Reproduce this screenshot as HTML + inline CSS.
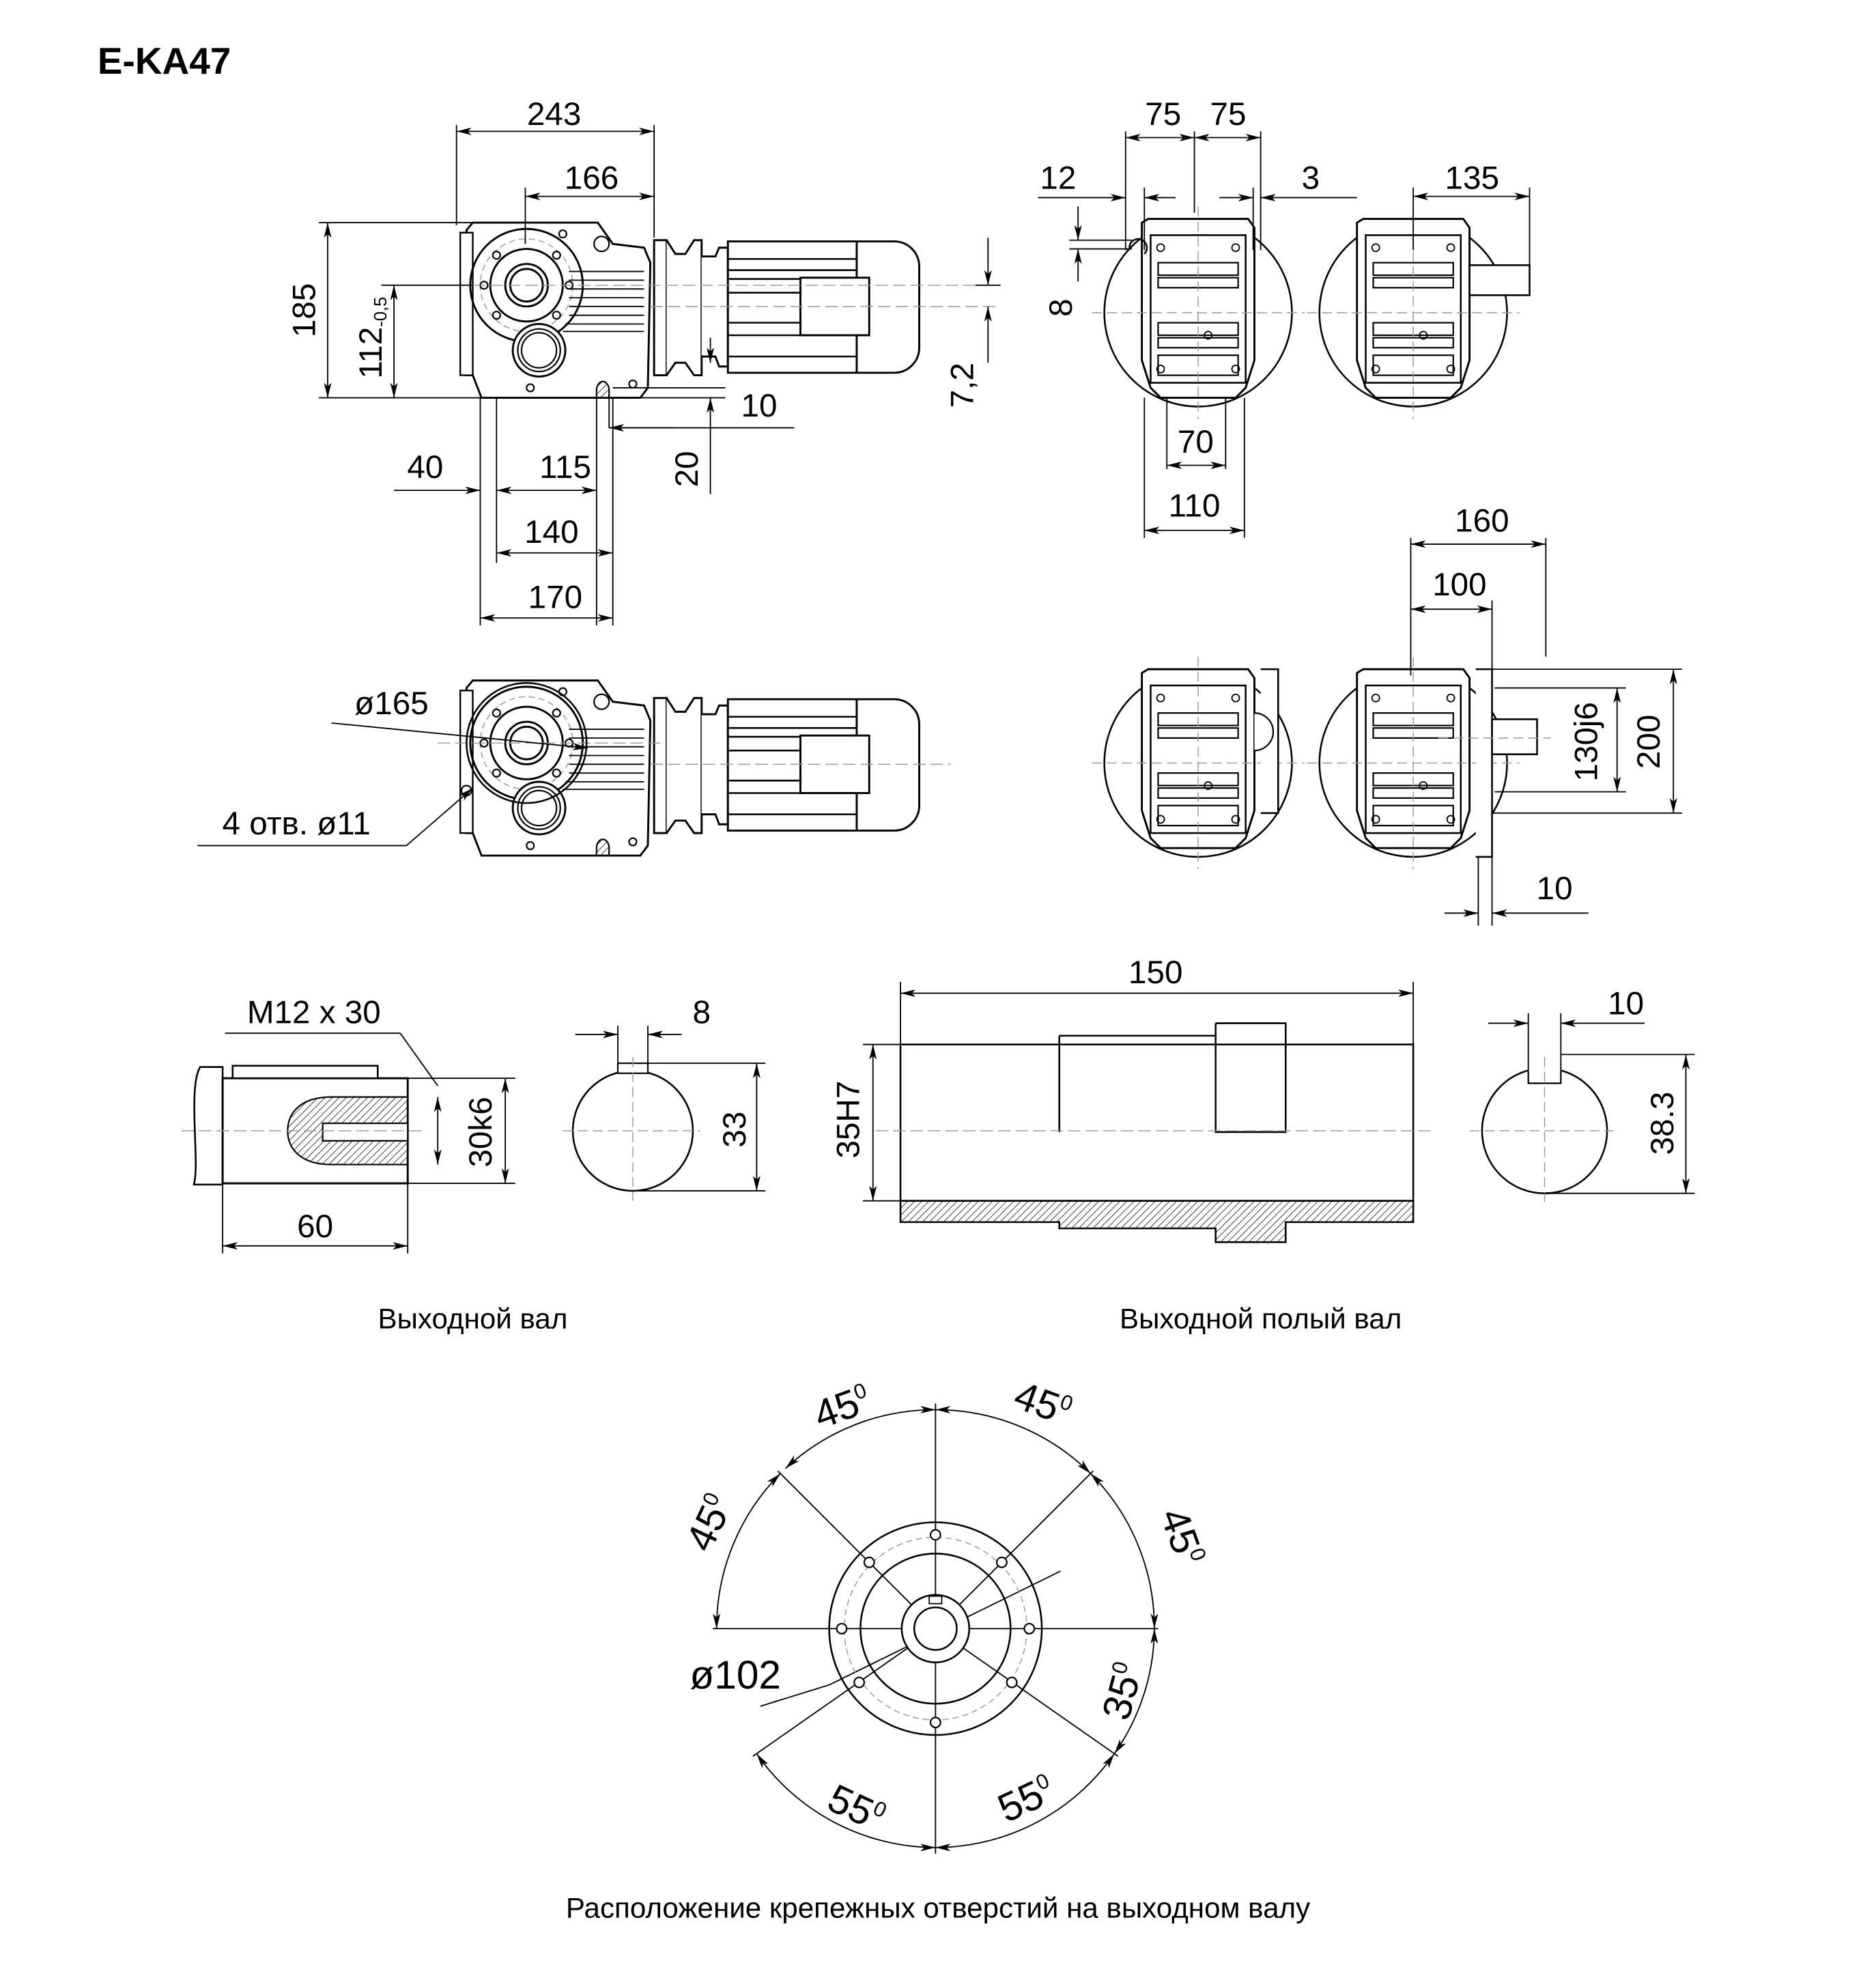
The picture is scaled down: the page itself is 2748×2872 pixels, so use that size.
<!DOCTYPE html>
<html><head><meta charset="utf-8"><style>
html,body{margin:0;padding:0;background:#fff}
svg{display:block}
text{font-family:"Liberation Sans",sans-serif;fill:#000}
</style></head><body>
<svg width="2748" height="2872" viewBox="0 0 1500 1567.7" xmlns="http://www.w3.org/2000/svg">
<defs>
<marker id="a" viewBox="0 0 12 6" refX="12" refY="3" markerWidth="12" markerHeight="6" orient="auto-start-reverse" markerUnits="userSpaceOnUse"><path d="M0,0 L12,3 L0,6 L3,3z" fill="#000"/></marker>
<pattern id="h" width="4" height="4" patternUnits="userSpaceOnUse" patternTransform="rotate(45)"><line x1="0" y1="0" x2="0" y2="4" stroke="#000" stroke-width="0.8"/></pattern>
<g id="gm">
 <path d="M373,184 L378,178 L478,178 L490,195 L515,198 L520,210 L518,310 L512,318 L385,318 L378,300 L373,300 Z" fill="#fff" stroke="#000" stroke-width="1.6"/>
 <path d="M368,186 L378,186 L378,300 L368,300 Z" fill="#fff" stroke="#000" stroke-width="1.3"/>
 <circle cx="421" cy="228" r="45" fill="none" stroke="#000" stroke-width="1.6"/>
 <circle cx="421" cy="228" r="37" fill="none" stroke="#999" stroke-width="0.8" stroke-dasharray="5,3"/>
 <circle cx="421" cy="228" r="29" fill="none" stroke="#000" stroke-width="1.6"/>
 <circle cx="421" cy="228" r="17" fill="none" stroke="#000" stroke-width="1.6"/>
 <circle cx="421" cy="228" r="13" fill="none" stroke="#000" stroke-width="1.6"/>
 <circle cx="431" cy="280" r="21" fill="#fff" stroke="#000" stroke-width="1.6"/>
 <circle cx="431" cy="280" r="17" fill="none" stroke="#000" stroke-width="1.2"/>
 <circle cx="431" cy="280" r="14" fill="none" stroke="#000" stroke-width="1.2"/>
 <g fill="none" stroke="#000" stroke-width="1.2">
  <circle cx="387" cy="228" r="3"/><circle cx="455" cy="228" r="3"/>
  <circle cx="397" cy="204" r="3"/><circle cx="445" cy="204" r="3"/>
  <circle cx="397" cy="252" r="3"/><circle cx="445" cy="252" r="3"/>
  <circle cx="450" cy="187" r="3"/><circle cx="424" cy="310" r="3"/><circle cx="506" cy="307" r="3"/>
  <circle cx="481" cy="195" r="6"/>
 </g>
 <g stroke="#000" stroke-width="1">
  <line x1="455" y1="217" x2="515" y2="217"/><line x1="455" y1="224" x2="515" y2="224"/><line x1="455" y1="231" x2="515" y2="231"/><line x1="455" y1="238" x2="515" y2="238"/><line x1="455" y1="245" x2="515" y2="245"/><line x1="455" y1="252" x2="515" y2="252"/><line x1="452" y1="259" x2="515" y2="259"/><line x1="450" y1="265" x2="515" y2="265"/>
 </g>
 <path d="M477,318 L477,312 A5,7 0 0 1 487,312 L487,318 Z" fill="url(#h)" stroke="#000" stroke-width="1.2"/>
 <rect x="523" y="192" width="10" height="108" fill="#fff" stroke="#000" stroke-width="1.6"/>
 <path d="M533,192 L540,203 L548,203 L555,192 L561,192 L561,300 L555,300 L548,290 L540,290 L533,300" fill="#fff" stroke="#000" stroke-width="1.6"/>
 <path d="M561,205 L572,205 L575,198 L582,198 L582,293 L575,293 L572,285 L561,285" fill="#fff" stroke="#000" stroke-width="1.6"/>
 <path d="M582,193 L715,193 A20,20 0 0 1 735,213 L735,278 A20,20 0 0 1 715,298 L582,298 Z" fill="#fff" stroke="#000" stroke-width="1.6"/>
 <line x1="685" y1="193" x2="685" y2="298" stroke="#000" stroke-width="1.6"/>
 <g stroke="#000" stroke-width="1.4"><line x1="582" y1="207" x2="685" y2="207"/><line x1="582" y1="223" x2="640" y2="223"/><line x1="582" y1="234" x2="640" y2="234"/><line x1="582" y1="258" x2="640" y2="258"/><line x1="582" y1="268" x2="685" y2="268"/><line x1="582" y1="285" x2="685" y2="285"/><line x1="582" y1="216" x2="685" y2="216"/></g>
 <rect x="640" y="222" width="55" height="46" fill="#fff" stroke="#000" stroke-width="1.6"/>
</g>
<g id="ev">
 <circle cx="0" cy="0" r="75" fill="none" stroke="#000" stroke-width="1.4"/>
 <path d="M-45,-72 L-40,-75 L40,-75 L45,-68 L45,38 L38,60 L30,68 L-30,68 L-38,60 L-45,38 Z" fill="#fff" stroke="#000" stroke-width="1.6"/>
 <rect x="-38" y="-62" width="76" height="118" fill="#fff" stroke="#000" stroke-width="1.4"/>
 <g fill="#fff" stroke="#000" stroke-width="1.2">
  <rect x="-32" y="-40" width="64" height="10"/><rect x="-32" y="-28" width="64" height="8"/>
  <rect x="-32" y="8" width="64" height="10"/><rect x="-32" y="20" width="64" height="8"/>
  <rect x="-32" y="34" width="64" height="16"/>
 </g>
 <g fill="none" stroke="#000" stroke-width="1"><circle cx="-30" cy="-52" r="3"/><circle cx="30" cy="-52" r="3"/><circle cx="-30" cy="45" r="3"/><circle cx="30" cy="45" r="3"/><circle cx="8" cy="18" r="3"/></g>
 <line x1="-85" y1="0" x2="85" y2="0" stroke="#999" stroke-width="0.8" stroke-dasharray="8,4"/>
 <line x1="0" y1="-85" x2="0" y2="85" stroke="#999" stroke-width="0.8" stroke-dasharray="8,4"/>
</g>
</defs>

<text x="78" y="59" font-size="30" font-weight="bold">E-KA47</text>

<use href="#gm"/>
<line x1="350" y1="228" x2="800" y2="228" stroke="#999" stroke-width="0.8" stroke-dasharray="10,4"/>
<line x1="520" y1="245" x2="800" y2="245" stroke="#999" stroke-width="0.8" stroke-dasharray="10,4"/>
<g stroke="#000" stroke-width="1" fill="none">
 <line x1="365" y1="100" x2="365" y2="180"/><line x1="523" y1="100" x2="523" y2="190"/><line x1="420" y1="150" x2="420" y2="195"/>
 <line x1="365" y1="105" x2="523" y2="105" marker-start="url(#a)" marker-end="url(#a)"/>
 <line x1="420" y1="157" x2="523" y2="157" marker-start="url(#a)" marker-end="url(#a)"/>
 <line x1="255" y1="178" x2="378" y2="178"/><line x1="255" y1="318" x2="390" y2="318"/><line x1="305" y1="228" x2="378" y2="228"/>
 <line x1="262" y1="178" x2="262" y2="318" marker-start="url(#a)" marker-end="url(#a)"/>
 <line x1="315" y1="228" x2="315" y2="318" marker-start="url(#a)" marker-end="url(#a)"/>
 <line x1="780" y1="228" x2="800" y2="228"/>
 <line x1="790" y1="190" x2="790" y2="228" marker-end="url(#a)"/><line x1="790" y1="290" x2="790" y2="245" marker-end="url(#a)"/>
 <line x1="568" y1="270" x2="568" y2="290" marker-end="url(#a)"/><line x1="568" y1="395" x2="568" y2="318" marker-end="url(#a)"/>
 <line x1="490" y1="310" x2="580" y2="310"/><line x1="490" y1="318" x2="580" y2="318"/>
 <line x1="477" y1="318" x2="477" y2="500"/><line x1="487" y1="318" x2="487" y2="342"/><line x1="490" y1="318" x2="490" y2="500"/>
 <line x1="540" y1="342" x2="487" y2="342" marker-end="url(#a)"/><line x1="487" y1="342" x2="635" y2="342"/>
 <line x1="384" y1="318" x2="384" y2="500"/><line x1="397" y1="318" x2="397" y2="450"/>
 <line x1="315" y1="392" x2="384" y2="392" marker-end="url(#a)"/><line x1="397" y1="392" x2="477" y2="392" marker-start="url(#a)" marker-end="url(#a)"/>
 <line x1="397" y1="442" x2="490" y2="442" marker-start="url(#a)" marker-end="url(#a)"/>
 <line x1="384" y1="494" x2="490" y2="494" marker-start="url(#a)" marker-end="url(#a)"/>
</g>
<g font-size="26" text-anchor="middle">
 <text x="443" y="100">243</text><text x="473" y="151">166</text>
 <text x="252" y="248" transform="rotate(-90 252 248)">185</text>
 <text x="305" y="270" transform="rotate(-90 305 270)">112<tspan font-size="14" dy="4">-0,5</tspan></text>
 <text x="778" y="308" transform="rotate(-90 778 308)">7,2</text>
 <text x="558" y="375" transform="rotate(-90 558 375)">20</text>
 <text x="607" y="333">10</text>
 <text x="340" y="382">40</text><text x="452" y="382">115</text><text x="441" y="434">140</text><text x="444" y="486">170</text>
</g>

<use href="#gm" transform="translate(0,366)"/>
<line x1="350" y1="594" x2="530" y2="594" stroke="#999" stroke-width="0.8" stroke-dasharray="10,4"/>
<line x1="520" y1="611" x2="760" y2="611" stroke="#999" stroke-width="0.8" stroke-dasharray="10,4"/>
<circle cx="421" cy="594" r="48" fill="none" stroke="#000" stroke-width="1.4"/>
<circle cx="373" cy="632" r="4" fill="none" stroke="#000" stroke-width="1.2"/>
<g stroke="#000" stroke-width="1" fill="none">
 <line x1="265" y1="578" x2="470" y2="598" marker-end="url(#a)"/>
 <line x1="158" y1="676" x2="325" y2="676"/><line x1="325" y1="676" x2="378" y2="630" marker-end="url(#a)"/>
</g>
<g font-size="26" text-anchor="middle"><text x="313" y="571">ø165</text><text x="237" y="667">4 отв. ø11</text></g>

<use href="#ev" transform="translate(958,250)"/>
<use href="#ev" transform="translate(1130,250)"/>
<rect x="1175" y="212" width="48" height="24" fill="#fff" stroke="#000" stroke-width="1.4"/>
<path d="M903,198 a7,7 0 1 1 12,5" fill="none" stroke="#000" stroke-width="1.4"/>
<g stroke="#000" stroke-width="1" fill="none">
 <line x1="900" y1="105" x2="900" y2="200"/><line x1="955" y1="105" x2="955" y2="170"/><line x1="1008" y1="105" x2="1008" y2="200"/>
 <line x1="900" y1="110" x2="955" y2="110" marker-start="url(#a)" marker-end="url(#a)"/>
 <line x1="955" y1="110" x2="1008" y2="110" marker-start="url(#a)" marker-end="url(#a)"/>
 <line x1="915" y1="150" x2="915" y2="200"/><line x1="1002" y1="150" x2="1002" y2="200"/>
 <line x1="830" y1="158" x2="900" y2="158" marker-end="url(#a)"/><line x1="940" y1="158" x2="915" y2="158" marker-end="url(#a)"/>
 <line x1="975" y1="158" x2="1002" y2="158" marker-end="url(#a)"/><line x1="1085" y1="158" x2="1008" y2="158" marker-end="url(#a)"/>
 <line x1="1130" y1="150" x2="1130" y2="200"/><line x1="1223" y1="150" x2="1223" y2="215"/>
 <line x1="1130" y1="157" x2="1223" y2="157" marker-start="url(#a)" marker-end="url(#a)"/>
 <line x1="855" y1="192" x2="905" y2="192"/><line x1="855" y1="199" x2="905" y2="199"/>
 <line x1="862" y1="165" x2="862" y2="192" marker-end="url(#a)"/><line x1="862" y1="225" x2="862" y2="199" marker-end="url(#a)"/>
 <line x1="915" y1="318" x2="915" y2="430"/><line x1="995" y1="318" x2="995" y2="430"/><line x1="933" y1="318" x2="933" y2="375"/><line x1="980" y1="318" x2="980" y2="375"/>
 <line x1="933" y1="372" x2="980" y2="372" marker-start="url(#a)" marker-end="url(#a)"/>
 <line x1="915" y1="424" x2="995" y2="424" marker-start="url(#a)" marker-end="url(#a)"/>
</g>
<g font-size="26" text-anchor="middle">
 <text x="930" y="100">75</text><text x="982" y="100">75</text><text x="846" y="151">12</text><text x="1048" y="151">3</text><text x="1177" y="151">135</text>
 <text x="857" y="246" transform="rotate(-90 857 246)">8</text>
 <text x="956" y="362">70</text><text x="955" y="413">110</text>
</g>

<use href="#ev" transform="translate(958,610)"/>
<use href="#ev" transform="translate(1130,610)"/>
<path d="M1008,535 L1022,535 L1022,650 L1008,650" fill="#fff" stroke="#000" stroke-width="1.4"/>
<path d="M1003,570 a12,12 0 0 1 0,30" fill="#fff" stroke="#000" stroke-width="1.2"/>
<path d="M1180,535 L1193,535 L1193,685 L1180,685" fill="#fff" stroke="#000" stroke-width="1.4"/>
<rect x="1193" y="575" width="36" height="28" fill="#fff" stroke="#000" stroke-width="1.4"/>
<line x1="1150" y1="590" x2="1240" y2="590" stroke="#999" stroke-width="0.8" stroke-dasharray="8,4"/>
<g stroke="#000" stroke-width="1" fill="none">
 <line x1="1128" y1="430" x2="1128" y2="540"/><line x1="1193" y1="480" x2="1193" y2="535"/><line x1="1236" y1="430" x2="1236" y2="525"/>
 <line x1="1128" y1="435" x2="1236" y2="435" marker-start="url(#a)" marker-end="url(#a)"/>
 <line x1="1128" y1="487" x2="1193" y2="487" marker-start="url(#a)" marker-end="url(#a)"/>
 <line x1="1193" y1="535" x2="1345" y2="535"/><line x1="1193" y1="650" x2="1345" y2="650"/>
 <line x1="1195" y1="550" x2="1300" y2="550"/><line x1="1195" y1="633" x2="1300" y2="633"/>
 <line x1="1338" y1="535" x2="1338" y2="650" marker-start="url(#a)" marker-end="url(#a)"/>
 <line x1="1293" y1="550" x2="1293" y2="633" marker-start="url(#a)" marker-end="url(#a)"/>
 <line x1="1182" y1="685" x2="1182" y2="740"/><line x1="1193" y1="685" x2="1193" y2="740"/>
 <line x1="1155" y1="730" x2="1182" y2="730" marker-end="url(#a)"/><line x1="1270" y1="730" x2="1193" y2="730" marker-end="url(#a)"/>
</g>
<g font-size="26" text-anchor="middle">
 <text x="1185" y="425">160</text><text x="1167" y="476">100</text><text x="1243" y="719">10</text>
 <text x="1277" y="593" transform="rotate(-90 1277 593)">130j6</text>
 <text x="1327" y="593" transform="rotate(-90 1327 593)">200</text>
</g>

<path d="M178,853 L178,947 L155,947 C160,930 150,870 160,853 Z" fill="#fff" stroke="#000" stroke-width="1.4"/>
<rect x="178" y="862" width="148" height="84" fill="#fff" stroke="#000" stroke-width="1.6"/>
<rect x="186" y="852" width="116" height="10" fill="#fff" stroke="#000" stroke-width="1.4"/>
<path d="M326,877 L265,877 C240,877 230,890 230,904 C230,918 240,931 265,931 L326,931 Z" fill="url(#h)" stroke="#000" stroke-width="1.2"/>
<rect x="258" y="898" width="68" height="14" fill="#fff" stroke="#000" stroke-width="1.2"/>
<line x1="145" y1="904" x2="340" y2="904" stroke="#999" stroke-width="0.8" stroke-dasharray="10,4"/>
<g stroke="#000" stroke-width="1" fill="none">
 <line x1="180" y1="826" x2="320" y2="826"/><line x1="320" y1="826" x2="350" y2="868"/>
 <line x1="326" y1="946" x2="326" y2="1002"/><line x1="178" y1="946" x2="178" y2="1002"/>
 <line x1="178" y1="996" x2="326" y2="996" marker-start="url(#a)" marker-end="url(#a)"/>
 <line x1="326" y1="862" x2="412" y2="862"/><line x1="326" y1="946" x2="412" y2="946"/>
 <line x1="350" y1="877" x2="350" y2="931" marker-start="url(#a)" marker-end="url(#a)"/>
 <line x1="404" y1="862" x2="404" y2="946" marker-start="url(#a)" marker-end="url(#a)"/>
</g>
<g font-size="26" text-anchor="middle">
 <text x="251" y="818">M12 x 30</text><text x="252" y="989">60</text>
 <text x="393" y="905" transform="rotate(-90 393 905)">30k6</text>
</g>
<circle cx="506" cy="904" r="48" fill="#fff" stroke="#000" stroke-width="1.4"/>
<rect x="494" y="850" width="24" height="8" fill="#fff" stroke="#000" stroke-width="1.2"/>
<line x1="450" y1="904" x2="560" y2="904" stroke="#999" stroke-width="0.8" stroke-dasharray="8,4"/>
<line x1="506" y1="845" x2="506" y2="960" stroke="#999" stroke-width="0.8" stroke-dasharray="8,4"/>
<g stroke="#000" stroke-width="1" fill="none">
 <line x1="494" y1="820" x2="494" y2="850"/><line x1="518" y1="820" x2="518" y2="850"/>
 <line x1="460" y1="827" x2="494" y2="827" marker-end="url(#a)"/><line x1="545" y1="827" x2="518" y2="827" marker-end="url(#a)"/>
 <line x1="518" y1="850" x2="612" y2="850"/><line x1="506" y1="952" x2="612" y2="952"/>
 <line x1="605" y1="850" x2="605" y2="952" marker-start="url(#a)" marker-end="url(#a)"/>
</g>
<g font-size="26" text-anchor="middle"><text x="561" y="818">8</text><text x="596" y="903" transform="rotate(-90 596 903)">33</text></g>
<text x="378" y="1062" font-size="23" text-anchor="middle">Выходной вал</text>

<rect x="720" y="835" width="410" height="125" fill="#fff" stroke="#000" stroke-width="1.4"/>
<path d="M847,828 L847,905 M972,818 L972,905 L1028,905 L1028,818 L972,818" fill="none" stroke="#000" stroke-width="1.4"/>
<line x1="847" y1="828" x2="972" y2="828" stroke="#000" stroke-width="1.4"/>
<path d="M720,960 L1130,960 L1130,977 L1028,977 L1028,993 L972,993 L972,982 L847,982 L847,977 L720,977 Z" fill="url(#h)" stroke="#000" stroke-width="1.4"/>
<line x1="700" y1="904" x2="1145" y2="904" stroke="#999" stroke-width="0.8" stroke-dasharray="10,4"/>
<g stroke="#000" stroke-width="1" fill="none">
 <line x1="720" y1="785" x2="720" y2="835"/><line x1="1130" y1="785" x2="1130" y2="835"/>
 <line x1="720" y1="794" x2="1130" y2="794" marker-start="url(#a)" marker-end="url(#a)"/>
 <line x1="690" y1="835" x2="720" y2="835"/><line x1="690" y1="960" x2="720" y2="960"/>
 <line x1="698" y1="835" x2="698" y2="960" marker-start="url(#a)" marker-end="url(#a)"/>
</g>
<g font-size="26" text-anchor="middle"><text x="924" y="786">150</text><text x="687" y="895" transform="rotate(-90 687 895)">35H7</text></g>
<text x="1008" y="1062" font-size="23" text-anchor="middle">Выходной полый вал</text>
<circle cx="1235" cy="904" r="50" fill="#fff" stroke="#000" stroke-width="1.4"/>
<rect x="1222" y="852" width="26" height="12" fill="#fff" stroke="#fff"/>
<path d="M1222,856 L1222,866 L1248,866 L1248,856" fill="none" stroke="#000" stroke-width="1.2"/>
<line x1="1175" y1="904" x2="1290" y2="904" stroke="#999" stroke-width="0.8" stroke-dasharray="8,4"/>
<line x1="1235" y1="845" x2="1235" y2="965" stroke="#999" stroke-width="0.8" stroke-dasharray="8,4"/>
<g stroke="#000" stroke-width="1" fill="none">
 <line x1="1222" y1="810" x2="1222" y2="856"/><line x1="1248" y1="810" x2="1248" y2="856"/>
 <line x1="1190" y1="818" x2="1222" y2="818" marker-end="url(#a)"/><line x1="1315" y1="818" x2="1248" y2="818" marker-end="url(#a)"/>
 <line x1="1248" y1="843" x2="1355" y2="843"/><line x1="1235" y1="954" x2="1355" y2="954"/>
 <line x1="1348" y1="843" x2="1348" y2="954" marker-start="url(#a)" marker-end="url(#a)"/>
</g>
<g font-size="26" text-anchor="middle"><text x="1300" y="811">10</text><text x="1338" y="898" transform="rotate(-90 1338 898)">38.3</text></g>

<g transform="translate(748,1302)">
 <g stroke="#000" stroke-width="1" fill="none">
  <line x1="0" y1="0" x2="0" y2="-180"/><line x1="0" y1="0" x2="0" y2="180"/>
  <line x1="0" y1="0" x2="-178" y2="0"/><line x1="0" y1="0" x2="178" y2="0"/>
  <line x1="0" y1="0" x2="-126" y2="-126"/><line x1="0" y1="0" x2="126" y2="-126"/>
  <line x1="0" y1="0" x2="146" y2="102"/><line x1="0" y1="0" x2="-146" y2="102"/>
  <line x1="-85" y1="45" x2="100" y2="-46"/>
  <path d="M-175,0 A175,175 0 0 1 -124,-124" marker-start="url(#a)" marker-end="url(#a)"/>
  <path d="M-120,-128 A175,175 0 0 1 0,-175" marker-start="url(#a)" marker-end="url(#a)"/>
  <path d="M0,-175 A175,175 0 0 1 124,-124" marker-start="url(#a)" marker-end="url(#a)"/>
  <path d="M124,-124 A175,175 0 0 1 175,0" marker-start="url(#a)" marker-end="url(#a)"/>
  <path d="M175,0 A175,175 0 0 1 143,100" marker-start="url(#a)" marker-end="url(#a)"/>
  <path d="M143,100 A175,175 0 0 1 0,175" marker-start="url(#a)" marker-end="url(#a)"/>
  <path d="M0,175 A175,175 0 0 1 -143,100" marker-start="url(#a)" marker-end="url(#a)"/>
  <line x1="-140" y1="62" x2="-85" y2="45"/>
 </g>
 <circle r="85" fill="none" stroke="#000" stroke-width="1.4"/>
 <circle r="73" fill="none" stroke="#999" stroke-width="0.8" stroke-dasharray="5,3"/>
 <circle r="60" fill="none" stroke="#000" stroke-width="1.4"/>
 <circle r="27" fill="#fff" stroke="#000" stroke-width="1.4"/>
 <circle r="17" fill="#fff" stroke="#000" stroke-width="1.4"/>
 <rect x="-5" y="-26" width="10" height="6" fill="#fff" stroke="#000" stroke-width="1"/>
 <g fill="#fff" stroke="#000" stroke-width="1.2">
  <circle cx="0" cy="-75" r="4"/><circle cx="-53" cy="-53" r="4"/><circle cx="53" cy="-53" r="4"/>
  <circle cx="-75" cy="0" r="4"/><circle cx="75" cy="0" r="4"/>
  <circle cx="61" cy="43" r="4"/><circle cx="-61" cy="43" r="4"/><circle cx="0" cy="75" r="4"/>
 </g>
</g>
<g font-size="32" text-anchor="middle">
 <text x="588" y="1350">ø102</text>
 <text x="677" y="1135" transform="rotate(-20 677 1135)">45<tspan font-size="17" dy="-12">0</tspan></text>
 <text x="830" y="1132" transform="rotate(20 830 1132)">45<tspan font-size="17" dy="-12">0</tspan></text>
 <text x="577" y="1222" transform="rotate(-65 577 1222)">45<tspan font-size="17" dy="-12">0</tspan></text>
 <text x="935" y="1232" transform="rotate(70 935 1232)">45<tspan font-size="17" dy="-12">0</tspan></text>
 <text x="908" y="1355" transform="rotate(-75 908 1355)">35<tspan font-size="17" dy="-12">0</tspan></text>
 <text x="680" y="1455" transform="rotate(25 680 1455)">55<tspan font-size="17" dy="-12">0</tspan></text>
 <text x="825" y="1448" transform="rotate(-25 825 1448)">55<tspan font-size="17" dy="-12">0</tspan></text>
</g>
<text x="750" y="1533" font-size="23" text-anchor="middle">Расположение крепежных отверстий на выходном валу</text>
</svg>
</body></html>
